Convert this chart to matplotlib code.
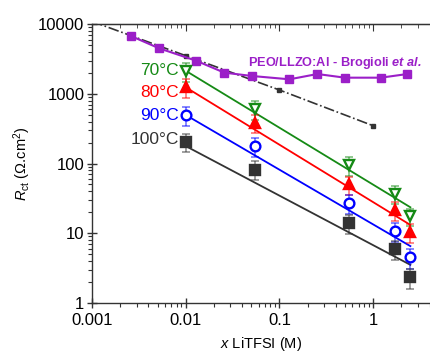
import matplotlib
matplotlib.use("Agg")

import matplotlib.pyplot as plt
import matplotlib.ticker as ticker
import numpy as np

plt.rcParams['font.family'] = ['Liberation Sans', 'DejaVu Sans']
plt.rcParams['mathtext.fontset'] = 'custom'
plt.rcParams['mathtext.rm'] = 'Liberation Sans'
plt.rcParams['mathtext.it'] = 'Liberation Sans:italic'
plt.rcParams['mathtext.bfit'] = 'Liberation Sans:italic:bold'

# LiTFSI concentration (M)
conc = [0.01, 0.055, 0.55, 1.7, 2.5]

# charge transfer resistance (ohm.cm2) and error bars
rct_70 = [2150, 600, 95, 37, 17.5]
err_70 = [650, 180, 28, 11, 5]
rct_80 = [1250, 380, 50, 21.5, 10.3]
err_80 = [370, 110, 15, 6.5, 3.2]
rct_90 = [500, 180, 27, 10.7, 4.5]
err_90 = [150, 55, 8, 3.2, 1.4]
rct_100 = [205, 82, 13.8, 5.9, 2.35]
err_100 = [60, 25, 4.2, 1.8, 0.75]

# fit lines (end points)
fit_x = [0.01, 2.5]
fit_70 = [2150, 23.5]
fit_80 = [1245, 13.1]
fit_90 = [498, 6.5]
fit_100 = [178, 3.5]

# PEO/LLZO:Al - Brogioli et al.
peo_x = [0.0026, 0.0052, 0.0129, 0.0258, 0.0506, 0.128, 0.254, 0.50, 1.21, 2.32]
peo_y = [6790, 4520, 3000, 2020, 1810, 1620, 1930, 1710, 1710, 1930]

# dash-dot reference line
ref_x = [0.001, 0.01, 0.1, 1]
ref_y = [11000, 3540, 1138, 349]

labels = ['70°C', '80°C', '90°C', '100°C']
label_y = [2150, 1055, 486, 218]

fig = plt.figure(figsize=(4.31, 3.52), dpi=100)
ax = fig.add_axes([0.2135, 0.140, 0.7865, 0.791])

ax.plot(ref_x, ref_y, '-.', color='#333333', lw=1.2, zorder=2)
ax.plot(ref_x[1:], ref_y[1:], 's', color='#333333', ms=3.5, zorder=2)
ax.plot(peo_x, peo_y, '-s', color='#9b1fc8', lw=1.5, ms=6, zorder=3)

series = [
    (rct_70, err_70, fit_70, '#158a15', 'v', 'white'),
    (rct_80, err_80, fit_80, '#ff0000', '^', '#ff0000'),
    (rct_90, err_90, fit_90, '#0000ff', 'o', 'white'),
    (rct_100, err_100, fit_100, '#333333', 's', '#333333'),
]
for (vals, errs, fit, col, mk, fc), lab, ly in zip(series, labels, label_y):
    ax.plot(fit_x, fit, '-', color=col, lw=1.3, zorder=2)
    ax.errorbar(conc, vals, yerr=errs, fmt='none', ecolor=col, alpha=0.55,
                elinewidth=1.2, capsize=3, capthick=1.2, zorder=3)
    ms = 6.5 if mk == 's' else 7
    ax.plot(conc, vals, mk, color=col, mfc=fc, mec=col, mew=1.7, ms=ms, zorder=4)
    ax.text(0.0085, ly, lab, color=col, fontsize=12.5, ha='right', va='center')

ax.text(0.046, 2800, 'PEO/LLZO:Al - Brogioli $\\mathbfit{et\\ al.}$', color='#9b1fc8',
        fontsize=9.2, fontweight='bold', ha='left', va='center')

ax.set_xscale('log')
ax.set_yscale('log')
ax.set_xlim(0.001, 4.15)
ax.set_ylim(1, 10000)

fmt = ticker.FuncFormatter(lambda v, p: '{:g}'.format(v))
ax.xaxis.set_major_formatter(fmt)
ax.yaxis.set_major_formatter(fmt)
ax.xaxis.set_minor_formatter(ticker.NullFormatter())
ax.yaxis.set_minor_formatter(ticker.NullFormatter())

for s in ['left', 'bottom', 'top']:
    ax.spines[s].set_color('#333333')
    ax.spines[s].set_linewidth(1.0)
ax.spines['right'].set_visible(False)

ax.tick_params(which='major', direction='inout', length=7, width=1,
               color='#333333', labelsize=12)
ax.tick_params(axis='x', which='major', pad=4)
ax.tick_params(axis='y', which='major', pad=2)
ax.tick_params(which='minor', direction='out', length=3, width=0.8,
               color='#333333')

top = ax.secondary_xaxis('top')
top.tick_params(which='both', direction='in', labeltop=False, color='#333333')
top.tick_params(which='major', length=5)
top.tick_params(which='minor', length=3)
top.xaxis.set_major_formatter(ticker.NullFormatter())
top.xaxis.set_minor_formatter(ticker.NullFormatter())

ax.set_xlabel('$\\mathit{x}$ LiTFSI (M)', fontsize=10.5, labelpad=5)
ax.set_ylabel('$\\mathit{R}_{\\mathrm{ct}}$ (Ω.cm$^{2}$)', fontsize=10.5, labelpad=4)

fig.savefig('out.png', dpi=100)
